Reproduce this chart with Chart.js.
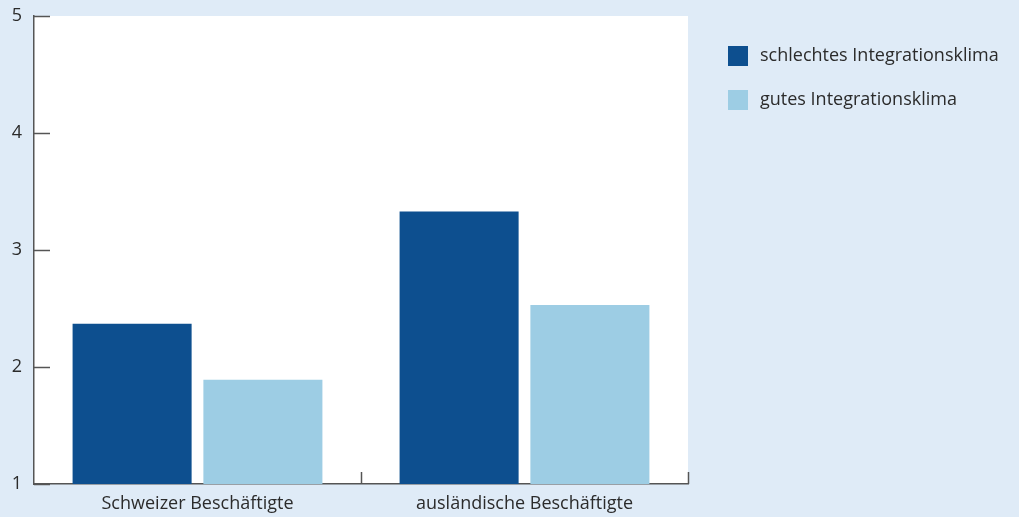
<!DOCTYPE html>
<html><head><meta charset="utf-8">
<script src="https://cdn.jsdelivr.net/npm/chart.js@4"></script>
<style>
html,body{margin:0;padding:0;background:#dfebf7;}
#wrap{position:relative;width:1019px;height:517px;}
</style></head><body>
<div id="wrap"><canvas id="c" width="1019" height="517"></canvas></div>
<script>
const categories = ["Schweizer Beschäftigte", "ausländische Beschäftigte"];
const seriesNames = ["schlechtes Integrationsklima", "gutes Integrationsklima"];
const schlechtes = [2.37, 3.33];
const gutes = [1.89, 2.53];
const yTicks = [1, 2, 3, 4, 5];

const FONT = "'Open Sans', 'Noto Sans', sans-serif";
const AXIS = "#555555";
const TEXT = "#2b2b2b";

const plotBg = {
  id: 'plotBg',
  beforeDraw(chart) {
    const a = chart.chartArea, ctx = chart.ctx;
    ctx.save(); ctx.fillStyle = '#ffffff';
    ctx.fillRect(a.left, a.top, a.right - a.left, a.bottom - a.top);
    ctx.restore();
  },
  afterDatasetsDraw(chart) {
    const a = chart.chartArea, ctx = chart.ctx;
    const y = chart.scales.y;
    ctx.save();
    ctx.strokeStyle = AXIS; ctx.lineWidth = 1.5;
    yTicks.forEach(v => {
      const py = Math.round(y.getPixelForValue(v)) + 0.5;
      ctx.beginPath(); ctx.moveTo(a.left, py); ctx.lineTo(a.left + 16, py); ctx.stroke();
    });
    const n = categories.length;
    for (let i = 1; i <= n; i++) {
      const px = Math.round(a.left + (a.right - a.left) * i / n) + 0.5;
      ctx.beginPath(); ctx.moveTo(px, a.bottom); ctx.lineTo(px, a.bottom - 12); ctx.stroke();
    }
    // legend
    ctx.font = "18px " + FONT;
    ctx.textBaseline = 'middle';
    chart.data.datasets.forEach((ds, i) => {
      const top = 46 + i * 44;
      ctx.fillStyle = ds.backgroundColor;
      ctx.fillRect(728, top, 20, 20);
      ctx.fillStyle = TEXT;
      ctx.fillText(ds.label, 760, top + 10);
    });
    ctx.restore();
  }
};

new Chart(document.getElementById('c'), {
  type: 'bar',
  data: {
    labels: categories,
    datasets: [
      { label: seriesNames[0], data: schlechtes, backgroundColor: '#0d4f8f' },
      { label: seriesNames[1], data: gutes, backgroundColor: '#9dcde4' }
    ]
  },
  options: {
    responsive: false,
    animation: false,
    devicePixelRatio: 1,
    layout: { padding: { top: 16, right: 331, left: 0, bottom: 0 } },
    datasets: { bar: { categoryPercentage: 0.8, barPercentage: 0.91, base: 1 } },
    plugins: { legend: { display: false }, tooltip: { enabled: false } },
    scales: {
      x: {
        grid: { display: false, drawTicks: false },
        border: { display: true, color: AXIS, width: 1.5 },
        ticks: { color: TEXT, font: { family: FONT, size: 18 }, padding: 9 },
        afterFit(s) { s.height = 33; s.paddingLeft = 0; s.paddingRight = 0; }
      },
      y: {
        min: 1, max: 5,
        grid: { display: false, drawTicks: false },
        border: { display: true, color: AXIS, width: 1.5 },
        ticks: { stepSize: 1, color: TEXT, font: { family: FONT, size: 18 }, padding: 12,
          callback: (v) => yTicks.includes(v) ? String(v) : '' },
        afterFit(s) { s.width = 34; s.paddingTop = 0; s.paddingBottom = 0; }
      }
    }
  },
  plugins: [plotBg]
});
</script>
</body></html>
